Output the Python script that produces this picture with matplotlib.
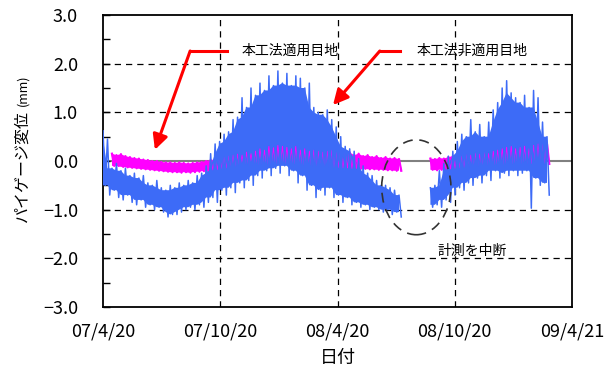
import numpy as np
import pandas as pd
import matplotlib
matplotlib.use('Agg')
import matplotlib.pyplot as plt
import matplotlib.dates as mdates
from matplotlib.patches import Ellipse

plt.rcParams['font.family'] = ['Noto Sans CJK JP', 'DejaVu Sans']
plt.rcParams['axes.unicode_minus'] = True

# weekly readings (max / min of the week), NaN while measurement was stopped
week_start = pd.date_range('2007-04-20', periods=100, freq='7D')

blue_hi = [0.62, 0.45, -0.15, -0.05, -0.2, -0.15, -0.3, -0.25, -0.35, -0.3,
           -0.45, -0.5, -0.4, -0.55, -0.6, -0.5, -0.55, -0.45, -0.5, -0.4,
           -0.45, -0.3, -0.25, -0.1, 0.15, 0.35, 0.4, 0.55, 0.6, 0.85,
           0.9, 1.3, 1.1, 1.5, 1.35, 1.6, 1.45, 1.75, 1.55, 1.85,
           1.6, 1.8, 1.55, 1.75, 1.7, 1.5, 1.6, 1.1, 1.0, 0.95,
           1.05, 0.85, 0.7, 0.5, 0.3, 0.25, 0.2, 0.05, -0.1, -0.25,
           -0.3, -0.4, -0.5, -0.5, -0.55, -0.6, -0.7, np.nan, np.nan, np.nan,
           np.nan, np.nan, np.nan, -0.55, -0.5, -0.2, -0.05, 0.1, 0.2, 0.4,
           0.55, 0.5, 0.85, 0.6, 0.75, 0.5, 0.8, 1.05, 1.2, 1.5,
           1.65, 1.4, 1.3, 1.2, 1.35, 1.1, 1.45, 1.3, 0.8, 0.5]
blue_lo = [-0.5, -0.7, -0.6, -0.75, -0.8, -0.7, -0.85, -0.9, -0.8, -0.95,
           -0.9, -1.0, -0.95, -1.05, -1.15, -1.1, -1.1, -1.05, -1.0, -0.95,
           -1.0, -0.9, -0.95, -0.85, -0.75, -0.85, -0.6, -0.7, -0.55, -0.65,
           -0.45, -0.55, -0.4, -0.5, -0.3, -0.35, -0.2, -0.3, -0.15, -0.25,
           -0.1, -0.3, -0.2, -0.45, -0.3, -0.6, -0.5, -0.75, -0.6, -0.7,
           -0.55, -0.75, -0.7, -0.85, -0.75, -0.9, -0.85, -0.95, -0.9, -1.0,
           -0.95, -1.0, -1.05, -1.0, -1.1, -1.05, -1.15, np.nan, np.nan, np.nan,
           np.nan, np.nan, np.nan, -0.95, -0.9, -0.95, -0.8, -0.85, -0.7, -0.55,
           -0.6, -0.45, -0.5, -0.35, -0.45, -0.3, -0.4, -0.2, -0.35, -0.25,
           -0.3, -0.2, -0.3, -0.25, -0.2, -0.97, -0.35, -0.5, -0.45, -0.7]

mag_hi = [np.nan, np.nan, 0.15, 0.12, 0.14, 0.1, 0.08, 0.06, 0.05, 0.03,
          0.02, 0.0, 0.0, -0.02, -0.03, -0.03, -0.04, -0.03, -0.04, -0.05,
          -0.04, -0.03, -0.02, 0.0, 0.02, 0.03, 0.05, 0.08, 0.1, 0.12,
          0.14, 0.12, 0.18, 0.15, 0.2, 0.25, 0.22, 0.3, 0.27, 0.32,
          0.3, 0.28, 0.25, 0.3, 0.22, 0.25, 0.2, 0.22, 0.2, 0.18,
          0.2, 0.22, 0.18, 0.2, 0.15, 0.18, 0.12, 0.15, 0.1, 0.12,
          0.08, 0.1, 0.06, 0.08, 0.05, 0.06, 0.04, np.nan, np.nan, np.nan,
          np.nan, np.nan, np.nan, 0.05, 0.04, 0.06, 0.05, 0.08, 0.1, 0.12,
          0.1, 0.15, 0.12, 0.16, 0.14, 0.18, 0.15, 0.2, 0.22, 0.25,
          0.28, 0.3, 0.25, 0.28, 0.3, 0.25, 0.32, 0.35, 0.4, 0.35]
mag_lo = [np.nan, np.nan, -0.1, -0.1, -0.12, -0.13, -0.14, -0.15, -0.16, -0.17,
          -0.18, -0.19, -0.2, -0.21, -0.22, -0.23, -0.23, -0.24, -0.23, -0.24,
          -0.23, -0.22, -0.21, -0.2, -0.18, -0.17, -0.15, -0.14, -0.13, -0.12,
          -0.11, -0.1, -0.09, -0.08, -0.07, -0.06, -0.06, -0.05, -0.05, -0.05,
          -0.05, -0.06, -0.06, -0.07, -0.08, -0.09, -0.1, -0.1, -0.11, -0.12,
          -0.12, -0.13, -0.13, -0.14, -0.14, -0.15, -0.15, -0.16, -0.16, -0.17,
          -0.17, -0.18, -0.18, -0.19, -0.19, -0.2, -0.2, np.nan, np.nan, np.nan,
          np.nan, np.nan, np.nan, -0.18, -0.19, -0.18, -0.17, -0.16, -0.15, -0.14,
          -0.13, -0.12, -0.11, -0.1, -0.1, -0.09, -0.08, -0.08, -0.07, -0.07,
          -0.06, -0.06, -0.05, -0.05, -0.05, -0.05, -0.05, -0.06, -0.06, -0.06]

tick_dates = ['2007-04-20', '2007-10-20', '2008-04-20', '2008-10-20', '2009-04-21']
tick_labels = ['07/4/20', '07/10/20', '08/4/20', '08/10/20', '09/4/21']

BLUE = '#3D6BF7'
MAGENTA = '#FF00FF'


def zigzag(hi, lo):
    # weekly max at the start of the week, min half a week later
    wk = mdates.date2num(week_start)
    xs = np.column_stack([wk, wk + 3.5]).ravel()
    ys = np.column_stack([hi, lo]).ravel()
    return xs, ys


def core(vals, how):
    # inner envelope over three neighbouring weeks so the weekly spikes stick out
    s = pd.Series(vals, dtype=float)
    r = s.rolling(3, center=True, min_periods=1)
    out = (r.min() if how == 'min' else r.max()).to_numpy()
    out[s.isna().to_numpy()] = np.nan
    return out


def d(s):
    return mdates.date2num(pd.Timestamp(s))


fig = plt.figure(figsize=(6.15, 3.72), dpi=100)
ax = fig.add_axes([103 / 615, 1 - 307 / 372, 469 / 615, 292 / 372])

ax.axhline(0, color='#808080', lw=1.5, zorder=1)
for v in [-2, -1, 1, 2]:
    ax.axhline(v, color='black', lw=0.9, ls=(0, (5, 4)), zorder=1)
for t in tick_dates[1:-1]:
    ax.axvline(d(t), color='black', lw=0.9, ls=(0, (5, 4)), zorder=1)

wk = mdates.date2num(week_start)
bx, by = zigzag(blue_hi, blue_lo)
mx, my = zigzag(mag_hi, mag_lo)

ax.fill_between(wk, mag_lo, mag_hi, color=MAGENTA, lw=0, zorder=2)
ax.plot(mx, my, color=MAGENTA, lw=1.6, zorder=2)
ax.fill_between(wk, core(blue_lo, 'max'), core(blue_hi, 'min'),
                color=BLUE, lw=0, zorder=3)
ax.plot(mx, my, color=MAGENTA, lw=0.8, zorder=4)
ax.plot(bx, by, color=BLUE, lw=1.1, zorder=5)

ax.set_xlim(d(tick_dates[0]), d(tick_dates[-1]))
ax.set_ylim(-3, 3)
ax.set_xticks([d(t) for t in tick_dates])
ax.set_xticklabels(tick_labels)
ax.set_yticks(np.arange(-3, 3.01, 1.0))
ax.set_yticklabels(['−3.0', '−2.0', '−1.0', '0.0', '1.0', '2.0', '3.0'])
ax.set_yticks(np.arange(-2.5, 3, 1.0), minor=True)
ax.tick_params(axis='y', which='both', direction='in', length=5, width=1, pad=18, labelsize=13)
ax.tick_params(axis='x', direction='in', length=0, pad=11, labelsize=13)
for sp in ax.spines.values():
    sp.set_linewidth(1.3)

# labels for the two joints, red bent arrows
ax.plot([d('2007-10-30'), d('2007-09-03')], [2.26, 2.26], color='red', lw=2.2, zorder=6)
ax.annotate('', xy=(d('2007-07-10'), 0.23), xytext=(d('2007-09-03'), 2.26),
            arrowprops=dict(arrowstyle='-|>,head_length=0.9,head_width=0.45',
                            color='red', lw=2.2, shrinkA=0, shrinkB=0), zorder=6)
ax.text(d('2007-11-23'), 2.26, '本工法適用目地', fontsize=10, va='center', ha='left')

ax.plot([d('2008-07-27'), d('2008-06-25')], [2.26, 2.26], color='red', lw=2.2, zorder=6)
ax.annotate('', xy=(d('2008-04-13'), 1.15), xytext=(d('2008-06-25'), 2.26),
            arrowprops=dict(arrowstyle='-|>,head_length=0.9,head_width=0.45',
                            color='red', lw=2.2, shrinkA=0, shrinkB=0), zorder=6)
ax.text(d('2008-08-22'), 2.26, '本工法非適用目地', fontsize=10, va='center', ha='left')

# interrupted measurement
ax.add_patch(Ellipse((d('2008-08-21'), -0.54), 108, 1.95, fill=False,
                     ec='#333333', lw=1.2, ls=(0, (6, 4)), zorder=7))
ax.text(d('2008-09-23'), -1.85, '計測を中断', fontsize=10, va='center', ha='left')

fig.text(22 / 615, 1 - 222 / 372, 'パイゲージ変位', rotation=90, fontsize=11.5,
         ha='center', va='bottom')
fig.text(23 / 615, 1 - 106 / 372, '(mm)', rotation=90, fontsize=9,
         ha='center', va='bottom')
fig.text(338 / 615, 1 - 358 / 372, '日付', fontsize=13, ha='center', va='center')

fig.savefig('out.png', dpi=100)
